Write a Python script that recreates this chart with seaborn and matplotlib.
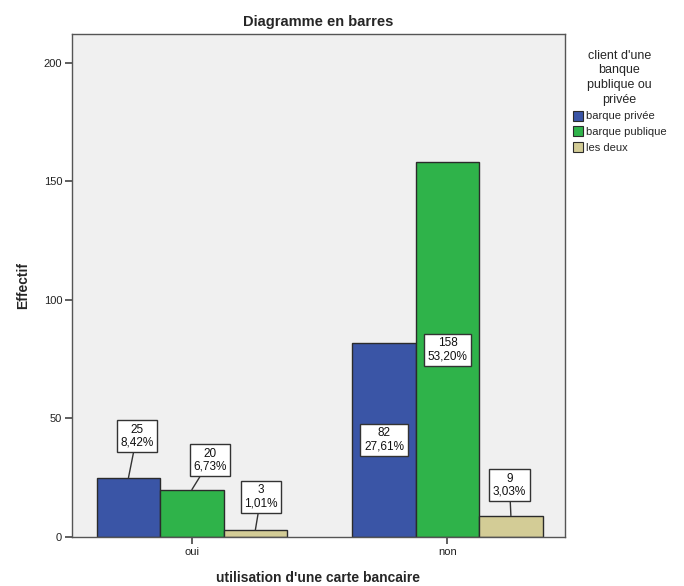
import matplotlib
matplotlib.use("Agg")
import matplotlib.pyplot as plt
import seaborn as sns
import pandas as pd

# Counts per card usage and bank type
carte = ["oui", "oui", "oui", "non", "non", "non"]
client = ["barque privée", "barque publique", "les deux",
          "barque privée", "barque publique", "les deux"]
effectif = [25, 20, 3, 82, 158, 9]
pourcent = ["8,42%", "6,73%", "1,01%", "27,61%", "53,20%", "3,03%"]

categories = ["oui", "non"]
hue_order = ["barque privée", "barque publique", "les deux"]
couleurs = ["#3a55a6", "#2fb34a", "#d3cc96"]

df = pd.DataFrame({"carte": carte, "client": client, "effectif": effectif})

sns.set_theme(style="white")
plt.rcParams["font.family"] = ["Liberation Sans", "DejaVu Sans"]

fig = plt.figure(figsize=(6.84, 5.86), dpi=100)
ax = fig.add_axes([0.105, 0.0836, 0.721, 0.858])
ax.set_facecolor("#f0f0f0")

sns.barplot(data=df, x="carte", y="effectif", hue="client",
            order=categories, hue_order=hue_order, palette=couleurs,
            saturation=1, width=0.745, gap=0, edgecolor="#2b2b2b",
            linewidth=1.0, ax=ax, legend=True)

ax.set_ylim(0, 212)
ax.set_xlim(-0.47, 1.46)
ax.set_yticks([0, 50, 100, 150, 200])
ax.set_yticklabels(["0", "50", "100", "150", "200"])
ax.tick_params(axis="both", which="both", direction="out", length=5,
               width=1.2, color="#444444", labelsize=8, labelcolor="#222222",
               left=True, bottom=True, pad=2)
for s in ax.spines.values():
    s.set_color("#555555")
    s.set_linewidth(1.0)

ax.set_title("Diagramme en barres", fontsize=10.5, fontweight="bold", pad=6)
ax.set_ylabel("Effectif", fontsize=10, fontweight="bold", labelpad=10)
ax.set_xlabel("utilisation d'une carte bancaire", fontsize=10,
              fontweight="bold", labelpad=10)

# Value labels: count and percentage in a boxed label
box = dict(boxstyle="square,pad=0.3", facecolor="white",
           edgecolor="#333333", linewidth=1.0)
# offsets (points) of each label relative to the bar top; None = centred inside
offsets = {
    ("oui", "barque privée"): (6, 30),
    ("oui", "barque publique"): (13, 21),
    ("oui", "les deux"): (4, 24),
    ("non", "barque privée"): None,
    ("non", "barque publique"): None,
    ("non", "les deux"): (-1, 22),
}
lookup = {(c, h): (v, p) for c, h, v, p in zip(carte, client, effectif, pourcent)}
for hname, cont in zip(hue_order, ax.containers):
    for cat, bar in zip(categories, cont.patches):
        v, p = lookup[(cat, hname)]
        xc = bar.get_x() + bar.get_width() / 2
        txt = f"{v}\n{p}"
        off = offsets[(cat, hname)]
        if off is None:
            ax.text(xc, v / 2, txt, ha="center", va="center", fontsize=8.5,
                    linespacing=1.1, bbox=box, color="#111111")
        else:
            ax.annotate(txt, xy=(xc, v), xytext=off, textcoords="offset points",
                        ha="center", va="center", fontsize=8.5, linespacing=1.1,
                        bbox=box, color="#111111",
                        arrowprops=dict(arrowstyle="-", color="#333333",
                                        linewidth=1.0, shrinkA=0, shrinkB=0))

leg = ax.legend(title="client d'une\nbanque\npublique ou\nprivée",
                loc="upper left", bbox_to_anchor=(1.0, 0.985), frameon=False,
                fontsize=8, title_fontsize=9, handlelength=0.9,
                handleheight=1.0, handletextpad=0.25, labelspacing=0.45,
                borderaxespad=0.3)
leg.get_title().set_multialignment("center")
leg.get_title().set_linespacing(1.3)
for h in leg.legend_handles:
    h.set_edgecolor("#2b2b2b")
    h.set_linewidth(0.8)

fig.savefig("out.png", dpi=100, facecolor="white")
